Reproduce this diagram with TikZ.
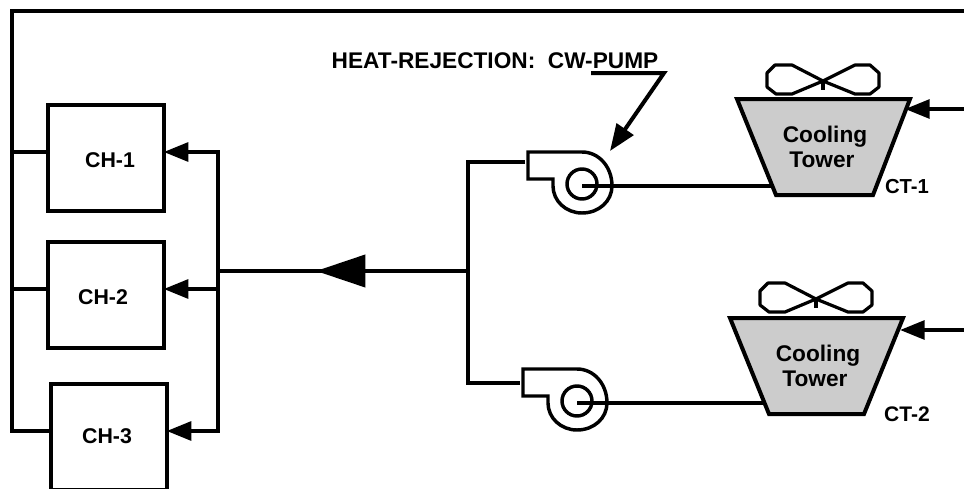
\documentclass[tikz,border=0pt]{standalone}
\usepackage{fontspec}
\setmainfont{Liberation Sans}
\usetikzlibrary{arrows.meta,calc}
\tikzset{
  x=0.75pt,y=-0.75pt,
  pipe/.style={line width=3pt,line join=miter},
  thinpipe/.style={line width=2.5pt},
  tiphead/.style={-{Triangle[length=18.5pt,width=14pt]}},
  bighead/.style={-{Triangle[length=37pt,width=24pt]}},
  leaderhead/.style={-{Triangle[length=20pt,width=15pt]}},
  chillerbox/.style={draw=black,line width=3pt,rectangle,inner sep=0pt,outer sep=0pt,minimum width=86.5pt,fill=white},
  label/.style={inner sep=0pt,outer sep=0pt,anchor=base,font=\bfseries},
  towerbody/.style={draw=black,fill=towergray,line width=3pt,line join=miter},
  fan/.pic={
    \draw[line width=2.4pt,line join=bevel]
      (0,0)--(-31,-16)--(-48,-16)--(-56,-8)--(-56,6)--(-47,13)--(-31,13)--(0,0)
      --(32,-16)--(47,-16)--(56,-8)--(56,6)--(47,13)--(32,13)--cycle;
    \draw[line width=2.4pt] (0,0)--(0,9);
  },
  pump/.pic={
    \draw[line width=2.6pt,line join=miter]
      (-54,-34)--(-54,-7)--(-29,-7)--(-29,0)
      .. controls (-29,15) and (-16,27) .. (0,27)
      .. controls (17,27) and (30,15) .. (30,0)
      .. controls (30,-19) and (17,-34) .. (0,-34)
      --cycle;
    \draw[line width=2.6pt] (0,-2) circle[radius=15];
    \coordinate (-in) at (-57,-23);
    \coordinate (-hub) at (0,0);
  },
}
\definecolor{towergray}{HTML}{CCCCCC}
\begin{document}
\begin{tikzpicture}
\useasboundingbox (0,0) rectangle (964,489);
\fill[white] (0,0) rectangle (964,489);

% chillers
\node[chillerbox,minimum height=79.5pt] (ch1) at (106,158) {};
\node[chillerbox,minimum height=79.5pt] (ch2) at (106,295) {};
\node[chillerbox,minimum height=80pt] (ch3) at (109,437) {};
\node[label,font=\bfseries\fontsize{16}{18}\selectfont] (ch1t) at (110,167) {CH-1};
\node[label,font=\bfseries\fontsize{16}{18}\selectfont] (ch2t) at (103,304) {CH-2};
\node[label,font=\bfseries\fontsize{16}{18}\selectfont] (ch3t) at (107,443) {CH-3};

% return header
\coordinate (topright) at (964,11);
\coordinate (topleft) at (12,11);
\coordinate (ret1) at (12,152);
\coordinate (ret2) at (12,289);
\coordinate (ret3) at (12,431);
\draw[pipe] (topright) -- (topleft) -- (ret3) -- (ret3 -| ch3.west);
\draw[pipe] (ret1) -- (ret1 -| ch1.west);
\draw[pipe] (ret2) -- (ret2 -| ch2.west);

% supply header
\coordinate (sup1) at (218,152);
\coordinate (sup2) at (218,289);
\coordinate (sup3) at (218,431);
\coordinate (main) at (218,271);
\coordinate (junction) at (468,271);
\coordinate (bigtail) at (366,271);
\coordinate (bigtip) at (316,271);
\draw[pipe,line cap=rect] (sup1) -- (sup3);
\draw[pipe,tiphead] (sup1) -- (sup1 -| ch1.east);
\draw[pipe,tiphead] (sup2) -- (sup2 -| ch2.east);
\draw[pipe,tiphead] (sup3) -- (sup3 -| ch3.east);
\draw[pipe] (junction) -- (main);
\draw[pipe,bighead] (bigtail) -- (bigtip);

% pumps
\pic (p1) at (582,186) {pump};
\pic (p2) at (577,403) {pump};
\coordinate (b1) at (468,162);
\coordinate (b2) at (468,383);
\draw[pipe] (p1-in |- b1) -- (b1) -- (b2) -- (p2-in |- b2);

% pump to tower lines
\coordinate (s1) at (774,186);
\coordinate (s2) at (767,403);
\draw[thinpipe] (p1-hub) -- (s1);
\draw[thinpipe] (p2-hub) -- (s2);

% towers
\coordinate (t1nw) at (737,99);
\coordinate (t1ne) at (910,99);
\coordinate (t1se) at (873,195);
\coordinate (t1sw) at (776,195);
\coordinate (t2nw) at (730,318);
\coordinate (t2ne) at (903,318);
\coordinate (t2se) at (864,414);
\coordinate (t2sw) at (769,414);
\draw[towerbody] (t1nw)--(t1ne)--(t1se)--(t1sw)--cycle;
\draw[towerbody] (t2nw)--(t2ne)--(t2se)--(t2sw)--cycle;
\pic at (823,81) {fan};
\pic at (816,299) {fan};
\node[label,font=\bfseries\fontsize{17}{18}\selectfont] (c1) at (825,142) {Cooling};
\node[label,font=\bfseries\fontsize{17}{18}\selectfont] (w1) at (822,167) {Tower};
\node[label,font=\bfseries\fontsize{17}{18}\selectfont] (c2) at (818,361) {Cooling};
\node[label,font=\bfseries\fontsize{17}{18}\selectfont] (w2) at (815,386) {Tower};
\node[label,font=\bfseries\fontsize{15.2}{18}\selectfont] (ct1) at (907,193) {CT-1};
\node[label,font=\bfseries\fontsize{15.8}{18}\selectfont] (ct2) at (907,421) {CT-2};

% inlet arrows
\coordinate (in1) at (964,109);
\coordinate (in1tip) at (905,109);
\coordinate (in2) at (964,330);
\coordinate (in2tip) at (900,330);
\draw[pipe,tiphead] (in1) -- (in1tip);
\draw[pipe,tiphead] (in2) -- (in2tip);

% label and leader
\node[label,font=\bfseries\fontsize{17}{18}\selectfont] (hr) at (495,68) {HEAT-REJECTION:\ \ CW-PUMP};
\coordinate (ld1) at (591,73);
\coordinate (ld2) at (664,73);
\coordinate (ld3) at (610,151);
\draw[pipe,leaderhead] (ld1) -- (ld2) -- (ld3);
\end{tikzpicture}
\end{document}
